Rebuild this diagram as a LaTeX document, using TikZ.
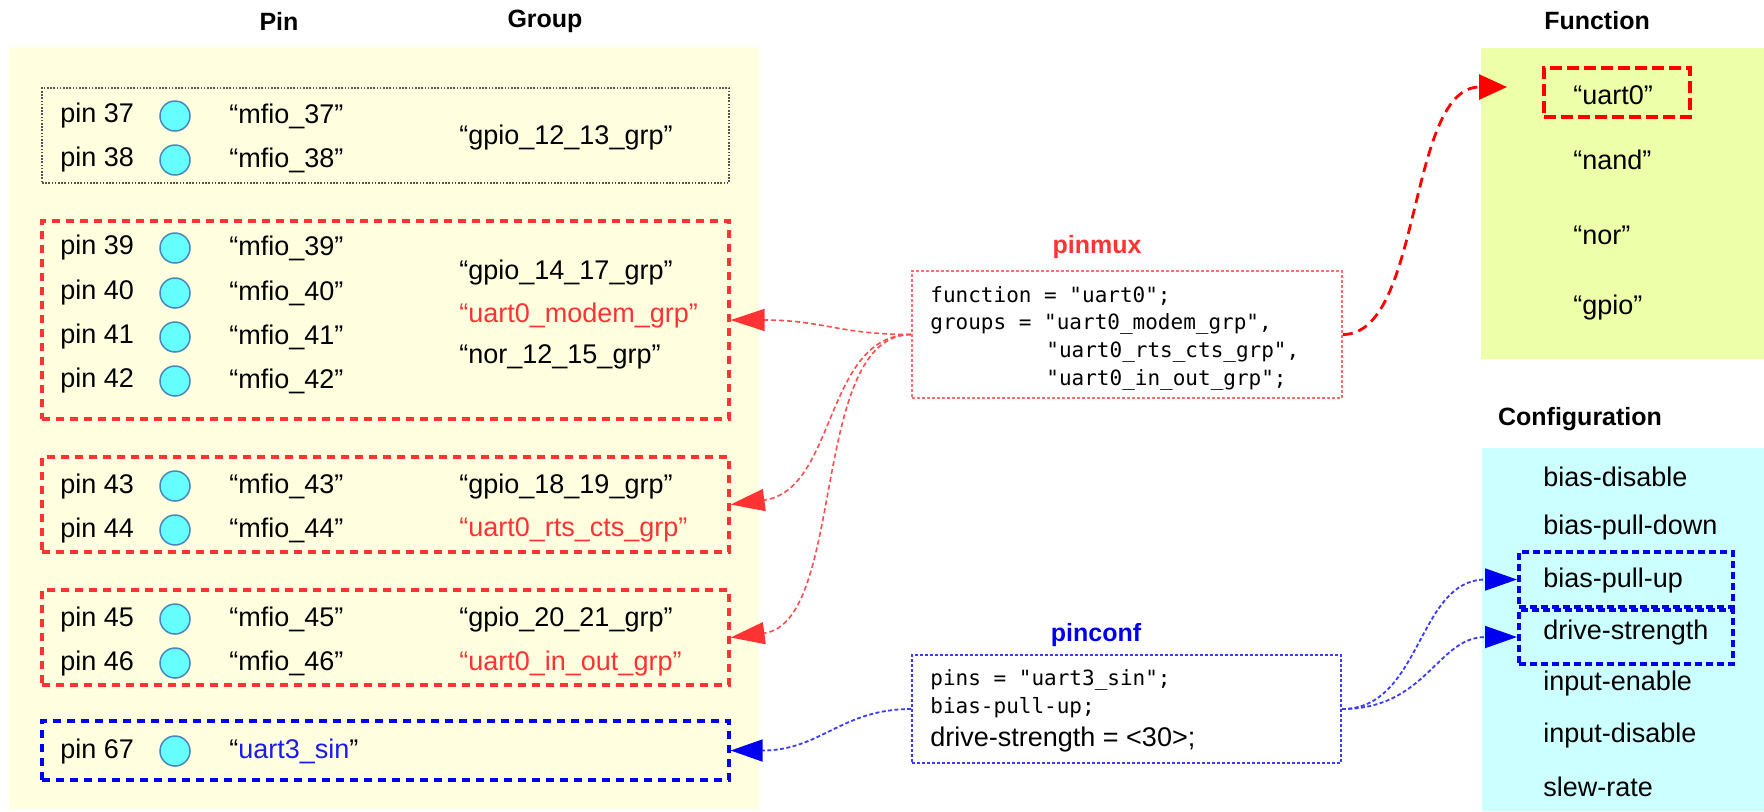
\documentclass[tikz,border=0pt]{standalone}
\usepackage{fontspec}
\setmainfont{Liberation Sans}
\setmonofont{DejaVu Sans Mono}
\usetikzlibrary{arrows.meta}
\definecolor{panelY}{HTML}{FFFFE0}
\definecolor{panelF}{HTML}{EEFFAA}
\definecolor{panelC}{HTML}{CCFFFF}
\definecolor{redB}{HTML}{FF3333}
\definecolor{redL}{HTML}{FF4D4D}
\definecolor{redP}{HTML}{FF6F6F}
\definecolor{redF}{HTML}{FF0000}
\definecolor{blueB}{HTML}{0000F0}
\definecolor{blueL}{HTML}{3B3BFF}
\definecolor{blueT}{HTML}{1A1AEE}
\definecolor{pinfill}{HTML}{66FFFF}
\definecolor{pinedge}{HTML}{4A86BE}
\definecolor{grayB}{HTML}{555555}
\begin{document}
\begin{tikzpicture}[x=0.5pt,y=-0.5pt,
  txt/.style={inner sep=0pt, anchor=west, font=\fontsize{13.5}{16}\selectfont},
  ttl/.style={inner sep=0pt, font=\fontsize{12.5}{15}\selectfont\bfseries},
  code/.style={inner sep=0pt, anchor=west, font=\fontsize{10.5}{13}\selectfont\ttfamily},
  pindot/.style={circle, draw=pinedge, fill=pinfill, line width=0.75pt, minimum size=15pt, inner sep=0pt},
  boxbase/.style={rectangle, inner sep=0pt, minimum width=343.5pt},
  redgrp/.style={boxbase, draw=redB, line width=1.6pt, dash pattern=on 4pt off 3pt},
  bluegrp/.style={boxbase, draw=blueB, line width=1.6pt, dash pattern=on 4pt off 3pt},
  graygrp/.style={boxbase, draw=grayB, line width=0.9pt, dash pattern=on 0.8pt off 0.8pt},
  mapbox/.style={rectangle, inner sep=0pt, line width=0.8pt, dash pattern=on 1.5pt off 1pt},
  selbox/.style={rectangle, inner sep=0pt, line width=2pt, minimum width=107pt},
  redcon/.style={draw=redL, line width=0.8pt, dash pattern=on 2.5pt off 1.5pt, -{Triangle[length=17pt,width=11pt,color=redB]}},
  bluecon/.style={draw=blueL, line width=0.9pt, dash pattern=on 2pt off 1.2pt, -{Triangle[length=16pt,width=11pt,color=blueB]}},
]
\useasboundingbox (0,0) rectangle (1764,811);
% panels
\fill[panelY] (9,47) rectangle (759,809);
\fill[panelF] (1481,48) rectangle (1764,359);
\fill[panelC] (1482,448) rectangle (1764,811);

% titles
\node[ttl] (tpin) at (279,21) {Pin};
\node[ttl] (tgroup) at (545,21) {Group};
\node[ttl] (tfunc) at (1597,21) {Function};
\node[ttl] (tconf) at (1580,419) {Configuration};
\node[ttl, text=redB] (tmux) at (1097,247) {pinmux};
\node[ttl, text=blueB] (tcfg) at (1096,635) {pinconf};

% group boxes
\node[graygrp, minimum height=47.5pt] (g1) at (385.5,135.5) {};
\node[redgrp, minimum height=99pt] (g2) at (385.5,320) {};
\node[redgrp, minimum height=47.5pt] (g3) at (385.5,504.5) {};
\node[redgrp, minimum height=47.5pt] (g4) at (385.5,637.5) {};
\node[bluegrp, minimum height=29.5pt] (g5) at (385.5,750.5) {};

% pins
\foreach \n/\y in {37/116,38/160,39/248,40/293,41/337,42/381,43/486,44/530,45/619,46/663}{
  \node[txt] (p\n) at (60,\y) {pin \n};
  \node[pindot] (c\n) at (175,\y) {};
  \node[txt] (m\n) at (229,\y) {“mfio\_\n”};
}
\node[txt] (p67) at (60,751) {pin 67};
\node[pindot] (c67) at (175,751) {};
\node[txt] (m67) at (229,751) {“{\color{blueT}uart3\_sin}”};

% group names
\node[txt] (gr1) at (459,138) {“gpio\_12\_13\_grp”};
\node[txt] (gr2a) at (459,273) {“gpio\_14\_17\_grp”};
\node[txt, text=redB] (gr2b) at (459,316) {“uart0\_modem\_grp”};
\node[txt] (gr2c) at (459,357) {“nor\_12\_15\_grp”};
\node[txt] (gr3a) at (459,486) {“gpio\_18\_19\_grp”};
\node[txt, text=redB] (gr3b) at (459,530) {“uart0\_rts\_cts\_grp”};
\node[txt] (gr4a) at (459,619) {“gpio\_20\_21\_grp”};
\node[txt, text=redB] (gr4b) at (459,663) {“uart0\_in\_out\_grp”};

% pinmux box
\node[mapbox, draw=redP, minimum width=215pt, minimum height=63.5pt] (pinmux) at (1127,334.5) {};
\node[code] (mx1) at (930,296) {function = "uart0";};
\node[code] (mx2) at (930,324) {groups = "uart0\_modem\_grp",};
\node[code] (mx3) at (1046,352) {"uart0\_rts\_cts\_grp",};
\node[code] (mx4) at (1046,380) {"uart0\_in\_out\_grp";};

% pinconf box
\node[mapbox, draw=blueL, minimum width=214.5pt, minimum height=54pt] (pinconf) at (1126.5,709) {};
\node[code] (cf1) at (930,680) {pins = "uart3\_sin";};
\node[code] (cf2) at (930,708) {bias-pull-up;};
\node[txt] (cf3) at (930,739) {drive-strength = <30>;};

% functions
\node[selbox, draw=redF, dash pattern=on 6pt off 2.5pt, minimum width=73pt, minimum height=24.5pt] (fsel) at (1617,92.5) {};
\node[txt] (fuart) at (1573,95) {“uart0”};
\node[txt] (fnand) at (1573,160) {“nand”};
\node[txt] (fnor) at (1573,235) {“nor”};
\node[txt] (fgpio) at (1573,308) {“gpio”};

% configuration
\node[selbox, draw=blueB, dash pattern=on 3.5pt off 2pt, minimum height=27.5pt] (cA) at (1626,579.5) {};
\node[selbox, draw=blueB, dash pattern=on 3.5pt off 2pt, minimum height=27pt] (cB) at (1626,637) {};
\node[txt] (k1) at (1543,477) {bias-disable};
\node[txt] (k2) at (1543,528) {bias-pull-down};
\node[txt] (k3) at (1543,580) {bias-pull-up};
\node[txt] (k4) at (1543,632) {drive-strength};
\node[txt] (k5) at (1543,683) {input-enable};
\node[txt] (k6) at (1543,735) {input-disable};
\node[txt] (k7) at (1543,787) {slew-rate};

% connectors
\coordinate (ftip) at (1507,87);
\draw[draw=redF, line width=1.4pt, dash pattern=on 5pt off 3pt, -{Triangle[length=14pt,width=12.5pt,color=redF]}]
  (pinmux.east) .. controls +(80,0) and +(-100,0) .. (ftip);
\draw[redcon] (pinmux.west) .. controls +(-72,0) and +(92,0) .. (g2.east);
\draw[redcon] (pinmux.west) .. controls +(-87,0) and +(106,-14) .. (g3.east);
\draw[redcon] (pinmux.west) .. controls +(-102,0) and +(116,-15) .. (g4.east);
\draw[bluecon] (pinconf.west) .. controls +(-70,0) and +(90,0) .. (g5.east);
\draw[bluecon] (pinconf.east) .. controls +(80,0) and +(-100,0) .. (cA.west);
\draw[bluecon] (pinconf.east) .. controls +(85,0) and +(-80,0) .. (cB.west);
\end{tikzpicture}
\end{document}
